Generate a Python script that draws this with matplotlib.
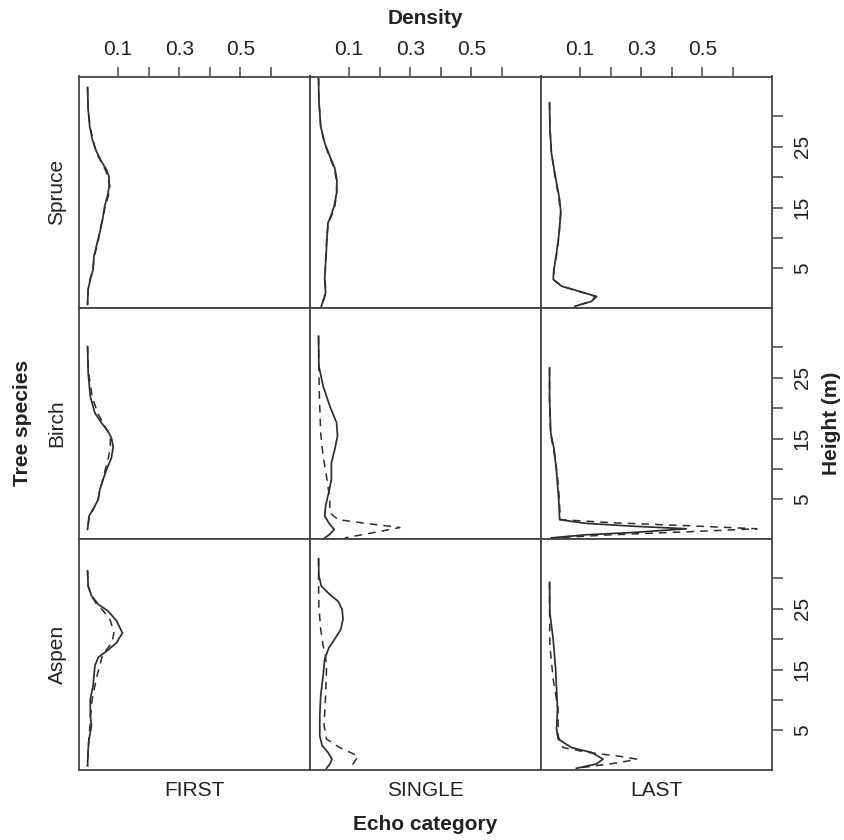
import matplotlib
matplotlib.use("Agg")
import matplotlib.pyplot as plt

plt.rcParams['font.family'] = ['Liberation Sans', 'DejaVu Sans']

species = ["Spruce", "Birch", "Aspen"]
echoes = ["FIRST", "SINGLE", "LAST"]
density_ticks = [0.1, 0.2, 0.3, 0.4, 0.5, 0.6]
density_labels = ["0.1", "", "0.3", "", "0.5", ""]
height_ticks = [5, 10, 15, 20, 25, 30]
height_labels = ["5", "", "15", "", "25", ""]

# Solid curves: (heights, densities)
spruce_first_h = [34.7, 31.1, 28.3, 26.1, 24.2, 22.6, 21.2, 20.1, 18.5, 16.9, 15.2, 13.0, 10.9, 8.7, 7.0, 4.8, 3.2, 1.6, -0.9]
spruce_first_d = [0.0, 0.002, 0.007, 0.016, 0.029, 0.045, 0.062, 0.070, 0.071, 0.065, 0.056, 0.049, 0.040, 0.029, 0.021, 0.018, 0.009, 0.002, 0.0]
spruce_first_dd = [0.0, 0.002, 0.008, 0.018, 0.027, 0.043, 0.058, 0.066, 0.073, 0.068, 0.058, 0.048, 0.040, 0.031, 0.022, 0.017, 0.008, 0.002, 0.0]

spruce_single_h = [36.2, 32.7, 28.3, 25.6, 23.4, 21.5, 19.6, 17.4, 15.2, 13.6, 12.5, 10.3, 6.5, 3.2, 1.0, -1.2]
spruce_single_d = [0.0, 0.001, 0.007, 0.020, 0.037, 0.053, 0.060, 0.059, 0.051, 0.040, 0.031, 0.028, 0.024, 0.020, 0.023, 0.009]
spruce_single_dd = [0.0, 0.001, 0.007, 0.019, 0.035, 0.051, 0.058, 0.060, 0.053, 0.042, 0.032, 0.027, 0.023, 0.021, 0.024, 0.010]

spruce_last_h = [32.2, 28.3, 24.0, 20.1, 16.3, 14.1, 10.3, 7.6, 4.8, 3.2, 2.1, 1.3, 0.4, -0.4, -1.2]
spruce_last_d = [0.0, 0.001, 0.006, 0.019, 0.033, 0.037, 0.030, 0.023, 0.014, 0.012, 0.039, 0.094, 0.154, 0.137, 0.083]
spruce_last_dd = [0.0, 0.001, 0.006, 0.018, 0.031, 0.036, 0.031, 0.024, 0.015, 0.013, 0.040, 0.093, 0.150, 0.135, 0.082]

birch_first_h = [30.1, 25.8, 21.9, 19.2, 17.6, 16.2, 15.1, 13.7, 11.8, 9.9, 8.3, 6.6, 5.0, 3.4, 2.3, 0.1]
birch_first_d = [0.0, 0.002, 0.009, 0.024, 0.045, 0.067, 0.078, 0.084, 0.078, 0.062, 0.051, 0.040, 0.035, 0.018, 0.005, 0.0]
birch_first_dd = [0.0, 0.003, 0.015, 0.033, 0.050, 0.066, 0.074, 0.075, 0.068, 0.058, 0.050, 0.041, 0.034, 0.019, 0.006, 0.0]

birch_single_h = [31.8, 26.9, 23.6, 20.3, 17.6, 15.4, 13.2, 11.0, 8.3, 6.1, 3.9, 2.3, 0.9, 0.1, -0.7, -1.4]
birch_single_d = [0.0, 0.001, 0.015, 0.037, 0.059, 0.062, 0.053, 0.042, 0.042, 0.033, 0.023, 0.020, 0.037, 0.051, 0.037, 0.018]
birch_single_dh = [31.8, 25.8, 21.4, 15.9, 12.1, 8.8, 5.0, 2.8, 1.7, 1.1, 0.4, -0.5, -1.3]
birch_single_dd = [0.0, 0.001, 0.003, 0.007, 0.015, 0.026, 0.037, 0.037, 0.064, 0.152, 0.266, 0.173, 0.086]

birch_last_h = [26.6, 21.4, 15.9, 13.2, 9.4, 5.0, 1.7, 1.1, 0.6, 0.2, -0.4, -0.8, -1.3]
birch_last_d = [0.0, 0.0, 0.004, 0.015, 0.023, 0.030, 0.033, 0.115, 0.279, 0.448, 0.279, 0.115, 0.006]
birch_last_dh = [26.6, 21.4, 15.9, 13.2, 9.4, 5.0, 1.7, 1.2, 0.7, 0.2, -0.3, -0.8, -1.3]
birch_last_dd = [0.0, 0.0, 0.003, 0.013, 0.025, 0.032, 0.035, 0.20, 0.45, 0.679, 0.45, 0.20, 0.01]

aspen_first_h = [31.2, 28.7, 27.1, 25.7, 24.6, 23.0, 21.0, 19.4, 18.0, 17.0, 15.6, 14.0, 12.3, 10.1, 7.4, 5.8, 3.6, 1.9, -0.8]
aspen_first_d = [0.0, 0.002, 0.013, 0.035, 0.067, 0.095, 0.114, 0.095, 0.062, 0.035, 0.024, 0.021, 0.018, 0.009, 0.009, 0.013, 0.005, 0.002, 0.0]
aspen_first_dd = [0.0, 0.002, 0.012, 0.030, 0.052, 0.075, 0.086, 0.080, 0.058, 0.047, 0.040, 0.031, 0.024, 0.015, 0.010, 0.008, 0.004, 0.002, 0.0]

aspen_single_h = [33.2, 30.4, 28.7, 27.3, 26.2, 24.9, 23.3, 21.6, 20.0, 18.6, 16.7, 14.0, 10.7, 7.4, 4.1, 2.5, 1.4, 0.3, -0.5, -1.2]
aspen_single_d = [0.0, 0.001, 0.009, 0.037, 0.064, 0.077, 0.080, 0.073, 0.053, 0.034, 0.020, 0.015, 0.007, 0.004, 0.004, 0.012, 0.031, 0.044, 0.037, 0.026]
aspen_single_dh = [33.2, 29.3, 25.4, 21.6, 18.9, 17.2, 15.0, 10.7, 5.8, 3.6, 2.2, 0.8, -0.5, -1.2]
aspen_single_dd = [0.0, 0.0, 0.001, 0.007, 0.015, 0.023, 0.026, 0.023, 0.018, 0.026, 0.069, 0.130, 0.113, 0.097]

aspen_last_h = [29.3, 24.3, 19.9, 15.0, 8.5, 5.2, 3.6, 2.2, 1.4, 0.3, -0.5, -1.2]
aspen_last_d = [0.0, 0.001, 0.012, 0.020, 0.026, 0.023, 0.028, 0.072, 0.137, 0.175, 0.153, 0.088]
aspen_last_dh = [29.3, 26.0, 18.9, 13.4, 8.5, 4.1, 2.2, 1.4, 0.8, 0.3, -0.3, -0.8, -1.2]
aspen_last_dd = [0.0, 0.0, 0.001, 0.012, 0.028, 0.028, 0.044, 0.126, 0.225, 0.285, 0.225, 0.148, 0.088]

panels = {
    ("Spruce", "FIRST"): (spruce_first_h, spruce_first_d, spruce_first_h, spruce_first_dd),
    ("Spruce", "SINGLE"): (spruce_single_h, spruce_single_d, spruce_single_h, spruce_single_dd),
    ("Spruce", "LAST"): (spruce_last_h, spruce_last_d, spruce_last_h, spruce_last_dd),
    ("Birch", "FIRST"): (birch_first_h, birch_first_d, birch_first_h, birch_first_dd),
    ("Birch", "SINGLE"): (birch_single_h, birch_single_d, birch_single_dh, birch_single_dd),
    ("Birch", "LAST"): (birch_last_h, birch_last_d, birch_last_dh, birch_last_dd),
    ("Aspen", "FIRST"): (aspen_first_h, aspen_first_d, aspen_first_h, aspen_first_dd),
    ("Aspen", "SINGLE"): (aspen_single_h, aspen_single_d, aspen_single_dh, aspen_single_dd),
    ("Aspen", "LAST"): (aspen_last_h, aspen_last_d, aspen_last_dh, aspen_last_dd),
}

W, H = 845, 840
fig = plt.figure(figsize=(W / 100, H / 100), dpi=100)
left, right, top, bottom = 79, 772, 76.5, 769.5
gs = fig.add_gridspec(3, 3, left=left / W, right=right / W, top=1 - top / H,
                      bottom=1 - bottom / H, wspace=0, hspace=0)

line_col = "#2e2e2e"
frame_col = "#444444"
fs = 15

for r, sp in enumerate(species):
    for c, ec in enumerate(echoes):
        ax = fig.add_subplot(gs[r, c])
        hs, ds, dh, dd = panels[(sp, ec)]
        ax.plot(dd, dh, color=line_col, lw=1.1, dashes=(5, 4))
        ax.plot(ds, hs, color=line_col, lw=1.25)
        ax.set_xlim(-0.028, 0.728)
        ax.set_ylim(-1.4, 36.5)
        for s in ax.spines.values():
            s.set_color(frame_col)
            s.set_linewidth(1.3)
        ax.tick_params(which="both", bottom=False, left=False, labelbottom=False,
                       labelleft=False, top=False, right=False, labeltop=False,
                       labelright=False)
        if r == 0:
            ax.set_xticks(density_ticks)
            ax.set_xticklabels(density_labels)
            ax.tick_params(axis="x", top=True, labeltop=True, length=7.5, width=1.1,
                           color=frame_col, pad=5, labelsize=fs, labelcolor="#222222")
        else:
            ax.set_xticks([])
        if c == 2:
            ax.set_yticks(height_ticks)
            ax.set_yticklabels(height_labels, rotation=90, va="center")
            ax.tick_params(axis="y", right=True, labelright=True, length=8, width=1.1,
                           color=frame_col, pad=7, labelsize=fs, labelcolor="#222222")
        else:
            ax.set_yticks([])

# column labels
col_w = (right - left) / 3
for c, ec in enumerate(echoes):
    xc = left + col_w * (c + 0.5)
    fig.text(xc / W, 1 - 791 / H, ec, ha="center", va="center", fontsize=fs, color="#222222")
row_h = (bottom - top) / 3
for r, sp in enumerate(species):
    yc = top + row_h * (r + 0.5)
    fig.text(57 / W, 1 - yc / H, sp, ha="center", va="center", rotation=90,
             fontsize=fs, color="#222222")

fig.text((left + right) / 2 / W, 1 - 18 / H, "Density", ha="center", va="center",
         fontsize=fs, fontweight="bold", color="#222222")
fig.text((left + right) / 2 / W, 1 - 825 / H, "Echo category", ha="center", va="center",
         fontsize=fs, fontweight="bold", color="#222222")
fig.text(23 / W, 1 - (top + bottom) / 2 / H, "Tree species", ha="center", va="center",
         rotation=90, fontsize=fs, fontweight="bold", color="#222222")
fig.text(832 / W, 1 - (top + bottom) / 2 / H, "Height (m)", ha="center", va="center",
         rotation=90, fontsize=fs, fontweight="bold", color="#222222")

fig.savefig("out.png", dpi=100)
